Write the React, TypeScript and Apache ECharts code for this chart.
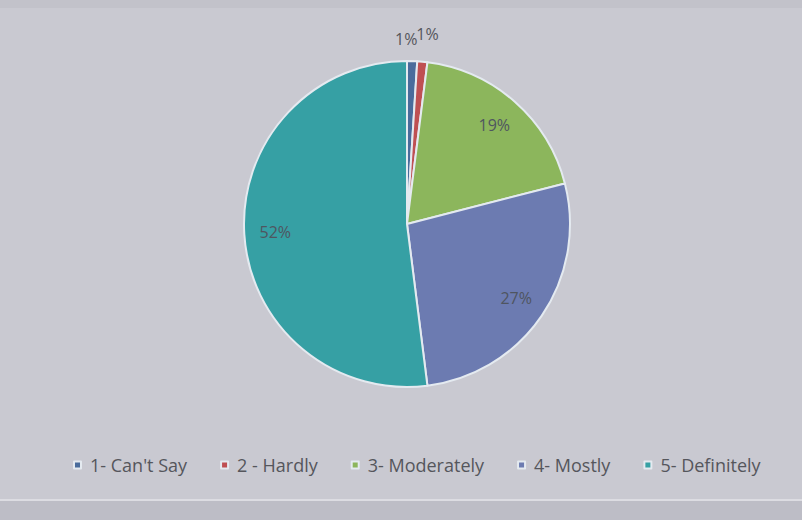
import React, { useEffect, useRef } from "react";
import * as echarts from "echarts";

const categories = ["1- Can't Say", "2 - Hardly", "3- Moderately", "4- Mostly", "5- Definitely"];
const values = [1, 1, 19, 27, 52];
const colors = ["#4a6c9c", "#bf5053", "#8cb65c", "#6c7bb1", "#36a0a4"];
const insideThreshold = 5;

export default function App() {
  const ref = useRef<HTMLDivElement>(null);
  useEffect(() => {
    if (!ref.current) return;
    const chart = echarts.init(ref.current, null, { renderer: "svg" });
    const data = categories.map((name, i) => ({
      name,
      value: values[i],
      itemStyle: { color: colors[i] },
    }));
    const font = "'Open Sans', 'Noto Sans', sans-serif";
    chart.setOption({
      animation: false,
      backgroundColor: "#c9c9d1",
      textStyle: { fontFamily: font },
      graphic: [
        { type: "rect", shape: { x: 0, y: 500, width: 802, height: 20 }, style: { fill: "#bdbdc6" } },
        { type: "line", shape: { x1: 0, y1: 500, x2: 802, y2: 500 }, style: { stroke: "#dcdce2", lineWidth: 2 } },
        { type: "rect", shape: { x: 0, y: 0, width: 802, height: 8 }, style: { fill: "#c2c2ca" } },
      ],
      legend: {
        bottom: 41,
        left: 68,
        icon: "rect",
        itemWidth: 7,
        itemHeight: 7,
        itemGap: 33,
        textStyle: { color: "#55565c", fontSize: 18, fontFamily: font, padding: [0, 0, 0, 4] },
        data: categories,
      },
      series: [
        {
          type: "pie",
          center: [407, 224],
          radius: [0, 163],
          startAngle: 90,
          clockwise: true,
          avoidLabelOverlap: false,
          data: data.map((d) => ({
            ...d,
            label: { show: d.value < insideThreshold },
          })),
          itemStyle: { borderColor: "#e4eaf0", borderWidth: 2 },
          label: {
            position: "outside",
            formatter: "{c}%",
            color: "#55565c",
            fontSize: 16,
            fontFamily: font,
          },
          labelLine: { show: false, length: 10, length2: 0 },
          labelLayout: (params: any) =>
            params.dataIndex === 0 ? { align: "right", dy: -12 } : { dy: -18, dx: -12 },
        },
        {
          type: "pie",
          center: [407, 224],
          radius: [95, 163],
          startAngle: 90,
          clockwise: true,
          silent: true,
          legendHoverLink: false,
          data: data.map((d) => ({
            name: d.name,
            value: d.value,
            itemStyle: { color: "transparent", borderWidth: 0 },
            label: { show: d.value >= insideThreshold },
          })),
          label: {
            position: "inside",
            formatter: "{c}%",
            color: "#4f5560",
            fontSize: 16,
            fontFamily: font,
          },
          labelLine: { show: false },
          tooltip: { show: false },
        },
      ],
    });
    return () => chart.dispose();
  }, []);
  return (
    <div
      ref={ref}
      style={{ position: "fixed", left: 0, top: 0, width: 802, height: 520 }}
    />
  );
}
